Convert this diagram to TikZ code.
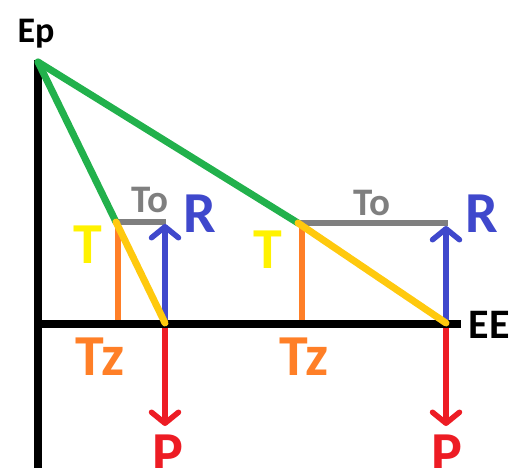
\documentclass[tikz,border=0pt]{standalone}
\usepackage{fontspec}
\setmainfont{Carlito}
\usetikzlibrary{arrows.meta}
\definecolor{pgreen}{HTML}{22B14C}
\definecolor{pgrey}{HTML}{7F7F7F}
\definecolor{pblue}{HTML}{3F48CC}
\definecolor{porange}{HTML}{FF7F27}
\definecolor{pyellow}{HTML}{FFF200}
\definecolor{pgold}{HTML}{FFC90E}
\definecolor{pred}{HTML}{ED1C24}
\begin{document}
\begin{tikzpicture}[x=1pt,y=-1pt,
  lbl/.style={font=\bfseries\fontsize{58}{58}\selectfont, inner sep=0pt, anchor=base},
  sml/.style={font=\bfseries\fontsize{39}{39}\selectfont, inner sep=0pt, anchor=base},
  axisline/.style={black, line width=8pt},
  force/.style={line width=5.5pt, -{Straight Barb[length=11pt,width=27pt,round]}},
  thin/.style={line width=5.5pt},
  thick/.style={line width=7pt, line cap=round}]
\useasboundingbox (0,0) rectangle (517,468);
\clip (0,0) rectangle (517,468);
% points
\coordinate (A) at (38,62);
\coordinate (L) at (116,222);
\coordinate (Lg) at (166,222);
\coordinate (Lo) at (118,222);
\coordinate (Lob) at (118,323);
\coordinate (B1) at (165,323);
\coordinate (R1) at (165,224);
\coordinate (P1) at (165,426);
\coordinate (M) at (298,223);
\coordinate (Mg) at (448,223);
\coordinate (Mo) at (302,225);
\coordinate (Mob) at (302,323);
\coordinate (B2) at (446,323);
\coordinate (R2) at (446,226);
\coordinate (P2) at (446,426);
\coordinate (Ytop) at (38,60);
\coordinate (Ybot) at (38,470);
\coordinate (X0) at (38,324);
\coordinate (X1) at (461,324);
% orange, grey, blue, red
\draw[thin, porange] (Lo) -- (Lob);
\draw[thin, porange] (Mo) -- (Mob);
\draw[thin, pgrey] (L) -- (Lg);
\draw[thin, pgrey] (M) -- (Mg);
\draw[force, pblue] (B1) -- (R1);
\draw[force, pblue] (B2) -- (R2);
\draw[force, pred] (B1) -- (P1);
\draw[force, pred] (B2) -- (P2);
% axes
\draw[axisline] (Ytop) -- (Ybot);
\draw[axisline] (X0) -- (X1);
% green and gold
\draw[thick, pgreen] (A) -- (L);
\draw[thick, pgreen] (A) -- (M);
\draw[thick, pgold] (L) -- (B1);
\draw[thick, pgold] (M) -- (B2);
% labels
\node[sml, font=\bfseries\fontsize{36}{36}\selectfont] (ep) at (36,43) {Ep};
\node[sml, font=\bfseries\fontsize{42}{42}\selectfont] (ee) at (489,338) {EE};
\node[sml, pgrey] (to1) at (150,212) {To};
\node[sml, pgrey] (to2) at (372,215) {To};
\node[lbl, pblue] (r1) at (200,232) {R};
\node[lbl, pblue] (r2) at (482,232) {R};
\node[lbl, pyellow] (t1) at (88,263) {T};
\node[lbl, pyellow] (t2) at (268,268) {T};
\node[lbl, porange] (tz1) at (100,375) {Tz};
\node[lbl, porange] (tz2) at (304,375) {Tz};
\node[lbl, pred] (p1) at (168,472) {P};
\node[lbl, pred] (p2) at (447,472) {P};
\end{tikzpicture}
\end{document}
